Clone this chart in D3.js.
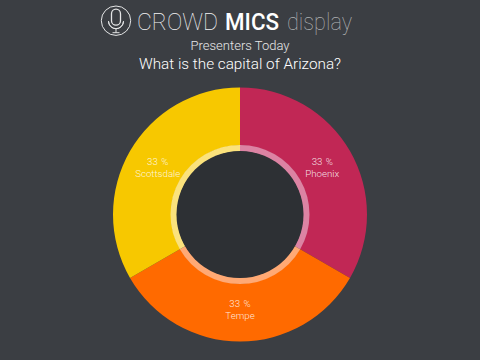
<!DOCTYPE html>
<html>
<head>
<meta charset="utf-8">
<script src="https://cdn.jsdelivr.net/npm/d3@7"></script>
<style>
html, body { margin: 0; padding: 0; background: #3b3e43; }
svg { display: block; }
text { font-family: Roboto, "Liberation Sans", sans-serif; font-weight: 300; text-anchor: middle; }
</style>
</head>
<body>
<div id="chart"></div>
<script>
const categories = ["Phoenix", "Tempe", "Scottsdale"];
const values = [33, 33, 33];
const sliceColors = ["#c12755", "#ff6a00", "#f7c800"];
const ringColors = ["#dc83a3", "#ffa974", "#fbe27c"];

const w = 480;
const h = 360;
const cx = 240;
const cy = 214.5;

const svg = d3.select("#chart").append("svg")
    .attr("width", w)
    .attr("height", h);

svg.append("rect")
    .attr("width", w)
    .attr("height", h)
    .attr("fill", "#3b3e43");

// Donut
const pie = d3.pie().sort(null)(values);
const arc = d3.arc().innerRadius(69).outerRadius(127);
const ring = d3.arc().innerRadius(63).outerRadius(69.5);
const labelArc = d3.arc().innerRadius(95).outerRadius(95);

const g = svg.append("g").attr("transform", `translate(${cx},${cy})`);

g.selectAll("path.slice")
    .data(pie)
    .enter()
    .append("path")
    .attr("class", "slice")
    .attr("d", arc)
    .attr("fill", (d, i) => sliceColors[i]);

g.selectAll("path.ring")
    .data(pie)
    .enter()
    .append("path")
    .attr("class", "ring")
    .attr("d", ring)
    .attr("fill", (d, i) => ringColors[i]);

g.append("circle")
    .attr("r", 63.5)
    .attr("fill", "#2d3034");

// Slice labels
const labels = g.selectAll("g.label")
    .data(pie)
    .enter()
    .append("g")
    .attr("class", "label")
    .attr("transform", d => `translate(${labelArc.centroid(d)})`)
    .attr("fill", "#fff")
    .attr("fill-opacity", 0.85)
    .attr("font-size", 9.7);

labels.append("text")
    .attr("y", -2.5)
    .attr("word-spacing", 1)
    .text(d => `${d.value} %`);

labels.append("text")
    .attr("y", 9.5)
    .text((d, i) => categories[i]);

// Logo
const logo = svg.append("g")
    .attr("transform", "translate(116,20.7)")
    .attr("fill", "none")
    .attr("stroke", "#e4e5e6");

logo.append("circle").attr("r", 14.7).attr("stroke-width", 1);
logo.append("rect")
    .attr("x", -4.5).attr("y", -11.5)
    .attr("width", 9).attr("height", 16).attr("rx", 4.5)
    .attr("stroke-width", 1.3);
logo.append("path")
    .attr("d", d3.arc().innerRadius(7.5).outerRadius(7.5).startAngle(Math.PI / 2).endAngle(Math.PI * 1.5)())
    .attr("transform", "translate(0,0.5)")
    .attr("stroke-width", 1);
logo.append("path").attr("d", "M0,8V12M-3.5,12H3.5").attr("stroke-width", 1);

// Header
const brand = [
    { text: "CROWD", x: 137, len: 81, weight: 100, fill: "#f4f4f5" },
    { text: "MICS", x: 225, len: 54, weight: 500, fill: "#ffffff" },
    { text: "display", x: 287, len: 65, weight: 100, fill: "#b4b6b8" }
];

svg.selectAll("text.brand")
    .data(brand)
    .enter()
    .append("text")
    .attr("class", "brand")
    .attr("x", d => d.x)
    .attr("y", 29.5)
    .attr("font-size", 24)
    .attr("textLength", d => d.len)
    .attr("lengthAdjust", "spacingAndGlyphs")
    .attr("fill", d => d.fill)
    .style("font-weight", d => d.weight)
    .style("text-anchor", "start")
    .text(d => d.text);

svg.append("text")
    .attr("x", 240)
    .attr("y", 50)
    .attr("font-size", 13)
    .attr("fill", "#e6e7e8")
    .text("Presenters Today");

svg.append("text")
    .attr("x", 240)
    .attr("y", 69)
    .attr("font-size", 15.3)
    .attr("fill", "#fff")
    .text("What is the capital of Arizona?");
</script>
</body>
</html>
